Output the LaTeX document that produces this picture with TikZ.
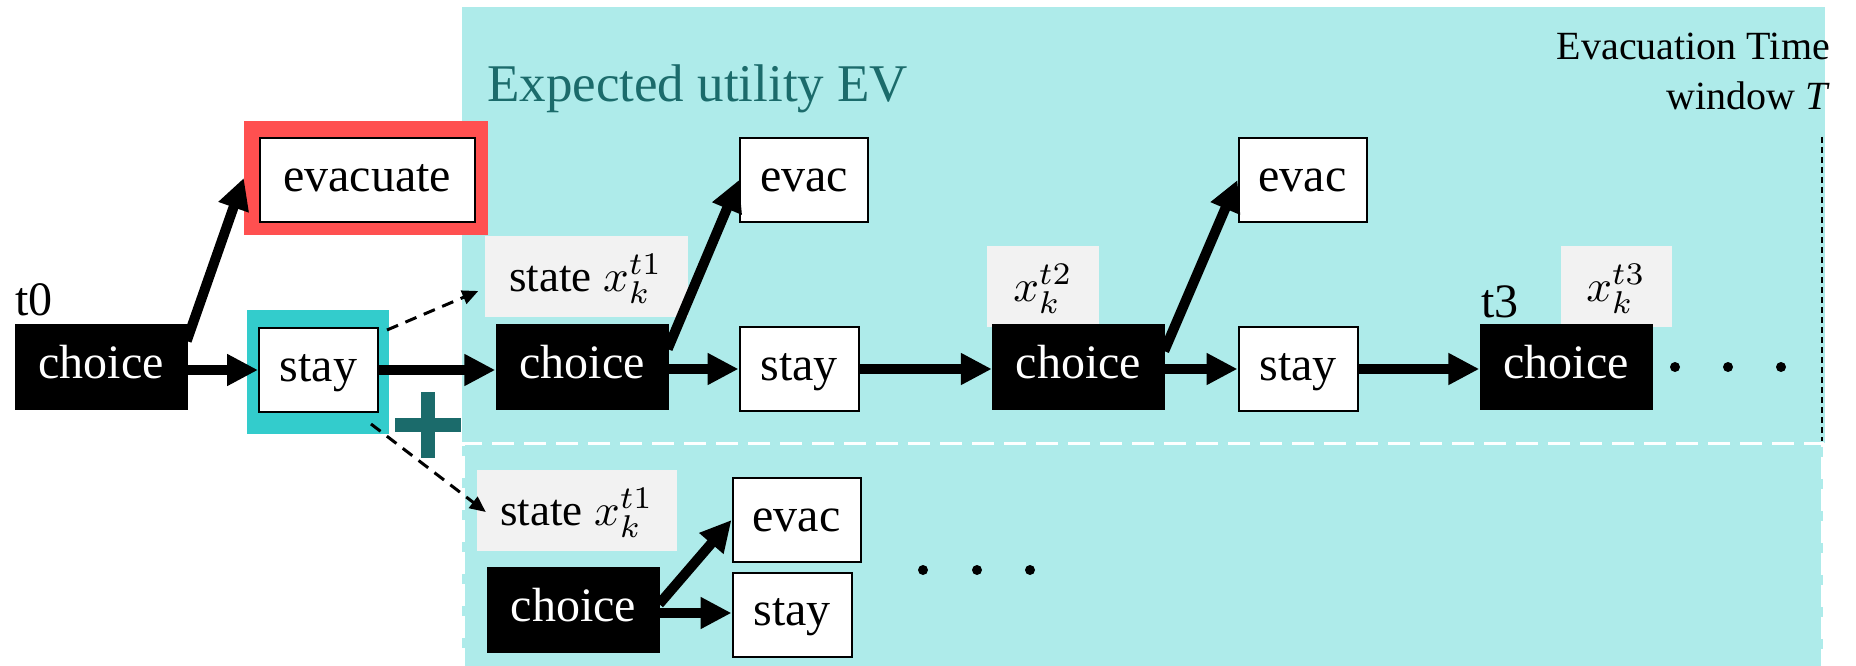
\documentclass[tikz,border=0pt]{standalone}
\usepackage{fontspec}
\setmainfont{Liberation Serif}
\usepackage{graphicx}
\usetikzlibrary{arrows.meta,calc}
\definecolor{evbg}{HTML}{AEEBEA}
\definecolor{evred}{HTML}{FF5050}
\definecolor{evteal}{HTML}{33CCCC}
\definecolor{evdark}{HTML}{1B6B6B}
\definecolor{stategray}{HTML}{F2F2F2}
\newcommand{\bigmath}[2]{\scalebox{#1}{\fontsize{10}{12}\selectfont$#2$}}
\tikzset{
  boxtext/.style={font=\fontsize{48}{52}\selectfont, text height=32pt, text depth=10pt},
  choicebox/.style={boxtext, fill=black, text=white, minimum width=173pt, minimum height=86pt, inner sep=0pt},
  whitebox/.style={boxtext, fill=white, draw=black, line width=2pt, minimum height=84pt, inner sep=0pt},
  statebox/.style={fill=stategray, minimum height=81pt, inner sep=0pt, font=\fontsize{45}{48}\selectfont, text height=36pt, text depth=6pt},
  framebox/.style={inner sep=0pt},
  lbl/.style={inner sep=0pt, font=\fontsize{48}{52}\selectfont},
  bigarrow/.style={line width=10pt, -{Triangle[length=31pt,width=30pt]}},
  dasharrow/.style={line width=3pt, dash pattern=on 12pt off 8pt, -{Triangle[length=16pt,width=14pt]}},
  dotmark/.style={fill=black, circle, minimum size=10pt, inner sep=0pt},
}
\begin{document}
\begin{tikzpicture}[x=1pt,y=-1pt]
\useasboundingbox (0,0) rectangle (1856,666);
% background regions
\fill[evbg] (462,7) rectangle (1825,443);
\fill[evbg] (462,443) rectangle (1823,666);
\draw[white, line width=3pt, dash pattern=on 22pt off 10pt] (463,670) -- (463,443) -- (1822,443) -- (1822,670);
\draw[black, line width=1.5pt, dash pattern=on 6pt off 4pt] (1822,137) -- (1822,441);

% titles
\node[inner sep=0pt, anchor=base west, text=evdark, font=\fontsize{53}{56}\selectfont] (title) at (487,102) {Expected utility EV};
\node[inner sep=0pt, anchor=north east, align=right, font=\fontsize{40}{50}\selectfont] (window) at (1830,33) {Evacuation Time\\window \textit{T}};

% t0 column
\node[choicebox] (choice1) at (101,367) {choice};
\node[lbl, anchor=base west] (t0) at (15,315) {t0};
\node[framebox, fill=evred, minimum width=244pt, minimum height=113pt] (evacframe) at (366,178) {};
\node[whitebox, minimum width=215pt] (evac1) at (367,180) {evacuate};
\node[framebox, fill=evteal, minimum width=142pt, minimum height=124pt] (stayframe) at (318,372) {};
\node[whitebox, minimum width=119pt] (stay1) at (318.5,370) {stay};

% plus sign
\fill[evdark] (395,418) rectangle (461,432);
\fill[evdark] (421,392) rectangle (435,458);

% t1 column
\node[statebox, minimum width=203pt] (state1) at (586,276) {state \bigmath{4.5}{x_k^{t1}}};
\node[choicebox] (choice2) at (582,367) {choice};
\node[whitebox, minimum width=128pt] (evac2) at (804,180) {evac};
\node[whitebox, minimum width=119pt] (stay2) at (799,369) {stay};

% t2 column
\node[statebox, minimum width=112pt] (state2) at (1043,286) {\bigmath{4.5}{x_k^{t2}}};
\node[choicebox] (choice3) at (1078.5,367) {choice};
\node[whitebox, minimum width=128pt] (evac3) at (1302.5,180) {evac};
\node[whitebox, minimum width=119pt] (stay3) at (1298,369) {stay};

% t3 column
\node[statebox, minimum width=111pt] (state3) at (1616,286) {\bigmath{4.5}{x_k^{t3}}};
\node[choicebox] (choice4) at (1566,367) {choice};
\node[lbl, anchor=base west] (t3) at (1481,317) {t3};
\node[dotmark] (d1) at (1675,367) {};
\node[dotmark] (d2) at (1728,367) {};
\node[dotmark] (d3) at (1781,367) {};

% lower branch
\node[statebox, minimum width=200pt] (stateL) at (577,510) {state \bigmath{4.5}{x_k^{t1}}};
\node[choicebox] (choiceL) at (573.5,610) {choice};
\node[whitebox, minimum width=128pt] (evacL) at (796.5,520) {evac};
\node[whitebox, minimum width=119pt] (stayL) at (792,614.5) {stay};
\node[dotmark] (e1) at (923,570) {};
\node[dotmark] (e2) at (977,570) {};
\node[dotmark] (e3) at (1030,570) {};

% arrows
\draw[bigarrow] ($(choice1.east)+(-1,-26)$) -- (evacframe.west);
\draw[bigarrow] (choice1.east |- stay1.west) -- (stay1.west);
\draw[bigarrow] (stay1.east) -- (stay1.east -| choice2.west);
\draw[bigarrow] ($(choice2.east)+(-1,-18)$) -- (evac2.west);
\draw[bigarrow] (choice2.east |- stay2.west) -- (stay2.west);
\draw[bigarrow] (stay2.east) -- (stay2.east -| choice3.west);
\draw[bigarrow] ($(choice3.east)+(-1,-16)$) -- (evac3.west);
\draw[bigarrow] (choice3.east |- stay3.west) -- (stay3.west);
\draw[bigarrow] (stay3.east) -- (stay3.east -| choice4.west);
\draw[bigarrow] ($(choiceL.east)+(-1,-6)$) -- (evacL.west);
\draw[bigarrow] ($(choiceL.east)+(0,3)$) -- ($(stayL.west)+(0,-1.5)$);

\draw[dasharrow] ($(stay1.north east)+(8,3)$) -- ($(state1.west)+(-6,15)$);
\draw[dasharrow] ($(stay1.south east)+(-8,11)$) -- ($(stateL.west)+(9,2)$);
\end{tikzpicture}
\end{document}
